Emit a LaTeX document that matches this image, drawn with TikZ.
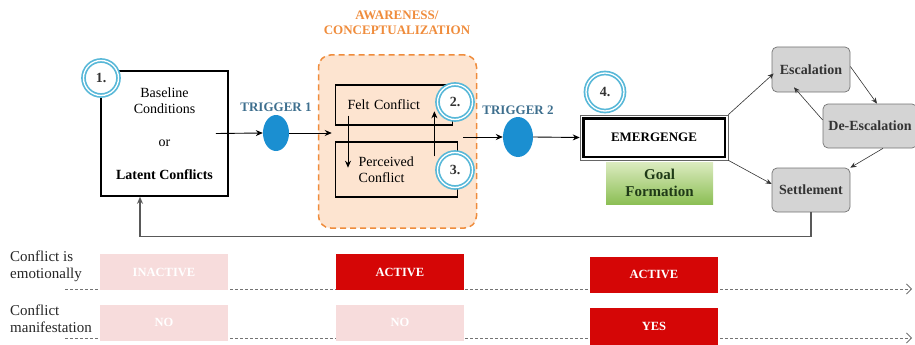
\documentclass[tikz,border=0pt]{standalone}
\usepackage{fontspec}
\setmainfont{Liberation Serif}
\usetikzlibrary{shapes.geometric, arrows.meta}

\definecolor{trigblue}{HTML}{1B8FD1}
\definecolor{trigtext}{HTML}{3E6F8E}
\definecolor{awareline}{HTML}{EF8C3C}
\definecolor{awarefill}{HTML}{FDE4D0}
\definecolor{ringblue}{HTML}{58B8D8}
\definecolor{activered}{HTML}{D50606}
\definecolor{palepink}{HTML}{F7DCDC}
\definecolor{goaltop}{HTML}{DCEBC0}
\definecolor{goalbot}{HTML}{8CBF55}
\definecolor{goaltext}{HTML}{1F3A17}

\tikzset{
  arr/.style={-{Stealth[length=7pt,width=6pt]}, line width=0.9pt},
  thinarr/.style={-{Stealth[length=6pt,width=5pt]}, line width=0.6pt, draw=black!80},
  rowdash/.style={-{Straight Barb[length=5pt,width=10pt]}, draw=black!55, line width=0.8pt, dash pattern=on 3pt off 2pt},
  ring/.style={circle, draw=ringblue, line width=1.7pt, double=white, double distance=1.3pt, fill=white,
    minimum size=35pt, inner sep=0pt, text=black!80, font=\fontsize{14}{16}\selectfont\bfseries},
  trig/.style={ellipse, fill=trigblue, inner sep=0pt},
  trigtxt/.style={text=trigtext, font=\fontsize{13}{15}\selectfont\bfseries},
  inbox/.style={draw, line width=1.4pt, align=left, anchor=west, inner ysep=0pt},
  outcome/.style={draw=black!55, fill=black!17, line width=0.7pt, rounded corners=5pt,
    minimum width=78pt, minimum height=45pt, text=black!80, font=\fontsize{14}{16}\selectfont\bfseries},
  statebox/.style={minimum width=128pt, minimum height=36pt, inner sep=0pt, text=white,
    font=\fontsize{12.5}{14}\selectfont\bfseries},
  rowlab/.style={anchor=west, align=left, inner sep=0pt, text=black!85, font=\fontsize{15}{17}\selectfont}
}

\begin{document}
\begin{tikzpicture}[x=1pt, y=-1pt, font=\fontsize{14}{16}\selectfont]
  \useasboundingbox (0,0) rectangle (915,345);

  % baseline
  \node[draw, line width=1.6pt, minimum width=127pt, minimum height=125pt, align=center, inner sep=0pt]
    (base) at (164.5,133.5) {Baseline\\Conditions\\[17pt]or\\[17pt]\textbf{Latent Conflicts}};
  \node[ring] (ring1) at (101,78) {1.};

  % trigger 1
  \node[trig, minimum width=26pt, minimum height=36pt, label={[trigtxt]above:TRIGGER 1}] (trig1) at (276,133) {};

  % awareness / conceptualization
  \node[draw=awareline, fill=awarefill, line width=1.5pt, dash pattern=on 6pt off 4pt, rounded corners=12pt,
    minimum width=158pt, minimum height=173pt] (aware) at (397.5,141.5) {};
  \node[align=center, text=awareline, font=\fontsize{13}{15}\selectfont\bfseries] (awaretitle) at (397,22.5)
    {AWARENESS/\\CONCEPTUALIZATION};
  \node[inbox, minimum height=40pt, inner xsep=12pt, text width=93pt] (felt) at (335,105) {Felt Conflict};
  \node[inbox, minimum height=55pt, inner xsep=23pt, text width=76pt] (perceived) at (335,169.5) {Perceived\\Conflict};
  \draw[arr] ([shift={(13,-10)}]felt.south west) -- ([shift={(13,-30)}]perceived.south west);
  \draw[arr] ([shift={(-24,15)}]perceived.north east) -- ([shift={(-19,27)}]felt.north east);
  \node[ring] (ring2) at (455,102) {2.};
  \node[ring] (ring3) at (455,170) {3.};

  % trigger 2
  \node[trig, minimum width=30pt, minimum height=40pt, label={[trigtxt, label distance=-1pt]above:TRIGGER 2}] (trig2) at (518,137) {};

  % emergence
  \node[draw=black!60, line width=0.6pt, minimum width=148pt, minimum height=45pt, font=\fontsize{13}{15}\selectfont\bfseries]
    (emerg) at (654,137.5) {EMERGENGE};
  \draw[line width=2.6pt] ([shift={(3.5,3.5)}]emerg.north west) rectangle ([shift={(-3.5,-3.5)}]emerg.south east);
  \node[ring, minimum size=38pt] (ring4) at (605,92) {4.};
  \node[top color=goaltop, bottom color=goalbot, minimum width=107pt, minimum height=42pt, inner sep=0pt,
    align=center, text=goaltext, font=\fontsize{15}{17}\selectfont\bfseries] (goal) at (659.5,183) {Goal\\Formation};

  % outcomes
  \node[outcome] (escal) at (811,69.5) {Escalation};
  \node[outcome, minimum width=94pt, minimum height=44pt] (deesc) at (870,126) {De-Escalation};
  \node[outcome, minimum height=44pt] (settle) at (811,190) {Settlement};

  % flow
  \draw[arr] ([xshift=-13pt]base.east) -- (trig1.west);
  \draw[arr] (trig1.east) -- ([shift={(14,-8.5)}]aware.west);
  \draw[arr] ([shift={(-14,-4.5)}]aware.east) -- (trig2.west);
  \draw[arr] (trig2.east) -- (emerg.west);
  \draw[thinarr] (emerg.north east) -- ([shift={(2,4)}]escal.west);
  \draw[thinarr] ([shift={(0,-3)}]escal.east) -- ([xshift=7pt]deesc.north);
  \draw[thinarr] ([shift={(0,-6)}]deesc.west) -- ([shift={(-17,-5)}]escal.south);
  \draw[thinarr] ([xshift=13pt]deesc.south) -- (settle.north east);
  \draw[thinarr] (emerg.south east) -- ([shift={(0,-6)}]settle.west);
  \draw[arr, draw=black!65, line width=1.2pt] (settle.south) -- ++(0,24) -| ([xshift=-24.5pt]base.south);

  % rows
  \coordinate (emoS) at (65,289);
  \coordinate (emoE) at (912,289);
  \coordinate (manS) at (65,338);
  \coordinate (manE) at (912,338);
  \draw[rowdash] (emoS) -- (emoE);
  \draw[rowdash] (manS) -- (manE);
  \node[rowlab] (emolab) at (10,266.5) {Conflict is\\emotionally};
  \node[rowlab] (manlab) at (10,318.5) {Conflict\\manifestation};
  \node[statebox, fill=palepink] (inact) at (164,272) {INACTIVE};
  \node[statebox, fill=activered] (act1) at (400,272) {ACTIVE};
  \node[statebox, fill=activered] (act2) at (654,274.5) {ACTIVE};
  \node[statebox, fill=palepink] (no1) at (164,322.5) {NO};
  \node[statebox, fill=palepink] (no2) at (400,322.5) {NO};
  \node[statebox, fill=activered, minimum height=37pt] (yes) at (654,326.5) {YES};
\end{tikzpicture}
\end{document}
